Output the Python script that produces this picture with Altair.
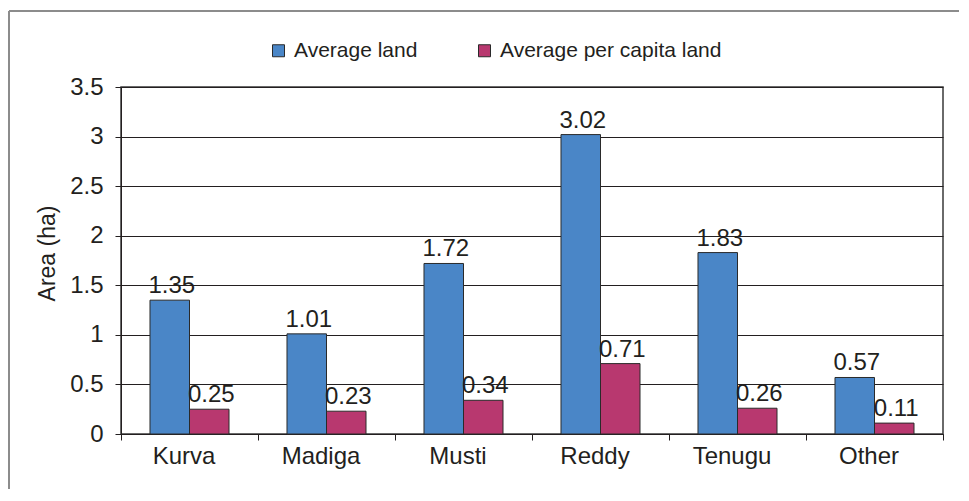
import altair as alt
import pandas as pd

categories = ["Kurva", "Madiga", "Musti", "Reddy", "Tenugu", "Other"]
series_names = ["Average land", "Average per capita land"]
avg_land = [1.35, 1.01, 1.72, 3.02, 1.83, 0.57]
per_capita_land = [0.25, 0.23, 0.34, 0.71, 0.26, 0.11]
y_ticks = [0, 0.5, 1, 1.5, 2, 2.5, 3, 3.5]
colors = ["#4A86C7", "#B8386F"]

rows = []
for i, c in enumerate(categories):
    rows.append({"group": c, "series": series_names[0], "value": avg_land[i]})
    rows.append({"group": c, "series": series_names[1], "value": per_capita_land[i]})
df = pd.DataFrame(rows)

FONT = "Liberation Sans"
TXT = "#231f20"

x_enc = alt.X("group:N", sort=categories,
              scale=alt.Scale(paddingInner=0, paddingOuter=0),
              axis=alt.Axis(title=None, labelAngle=0, labelFont=FONT, labelFontSize=24,
                            labelColor=TXT, tickBand="extent", tickSize=6, tickColor=TXT,
                            domainColor=TXT, labelPadding=4, labelOffset=-6, grid=False))
xoff_enc = alt.XOffset("series:N", sort=series_names,
                       scale=alt.Scale(paddingInner=0, paddingOuter=0.734))
y_enc = alt.Y("value:Q",
              scale=alt.Scale(domain=[0, 3.5], nice=False),
              axis=alt.Axis(title="Area (ha)", values=y_ticks, format="~g",
                            labelFont=FONT, labelFontSize=24, labelColor=TXT,
                            tickSize=6, tickColor=TXT, domainColor=TXT, labelPadding=12,
                            gridColor=TXT, gridWidth=1, gridOpacity=1,
                            titleFont=FONT, titleFontSize=23, titleFontWeight="normal",
                            titleColor=TXT, titleX=-74, titleY=166, titleAngle=270,
                            titleAlign="center", titleBaseline="middle"))

base = alt.Chart(df)

bars = base.mark_bar(stroke="#2a2a2a", strokeWidth=1).encode(
    x=x_enc,
    xOffset=xoff_enc,
    y=y_enc,
    color=alt.Color("series:N", sort=series_names,
                    scale=alt.Scale(domain=series_names, range=colors),
                    legend=alt.Legend(orient="none", legendX=147, legendY=-47,
                                      direction="horizontal", title=None,
                                      symbolType="square", symbolSize=144,
                                      symbolStrokeColor="#2a2a2a", symbolStrokeWidth=1,
                                      labelFont=FONT, labelFontSize=21, labelColor=TXT,
                                      labelLimit=0, labelOffset=5, columnPadding=56)),
)

labels = base.mark_text(font=FONT, fontSize=24, color=TXT, baseline="alphabetic",
                        align="center", dy=-7, dx=2).encode(
    x=alt.X("group:N", sort=categories),
    xOffset=alt.XOffset("series:N", sort=series_names),
    y=alt.Y("value:Q"),
    text=alt.Text("value:Q", format=".2f"),
)

frame_df = pd.DataFrame({"a": [0]})
top_line = alt.Chart(frame_df).mark_rule(color="#8c8c8c", strokeWidth=2).encode(
    x=alt.value(-112), x2=alt.value(860), y=alt.value(-76))
left_line = alt.Chart(frame_df).mark_rule(color="#8c8c8c", strokeWidth=2).encode(
    x=alt.value(-112), y=alt.value(-76), y2=alt.value(430))

chart = alt.layer(bars, labels, top_line, left_line).properties(
    width=822, height=347,
    autosize=alt.AutoSizeParams(type="none"),
    padding={"left": 113, "top": 79, "right": 16, "bottom": 55},
    background="white",
).configure_view(stroke="#3a3a3a", strokeWidth=1.5)

chart.save("out.html", embed_options={"renderer": "svg", "actions": False})
